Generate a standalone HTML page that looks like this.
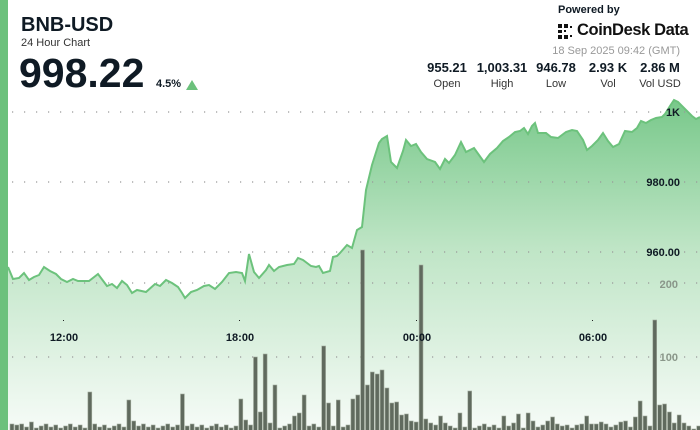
<!DOCTYPE html>
<html><head><meta charset="utf-8"><style>
body{margin:0;width:700px;height:430px;overflow:hidden;background:#fff;font-family:"Liberation Sans",sans-serif;position:relative}
.t{position:absolute;white-space:nowrap;color:#0f1a24}
.st{position:absolute;text-align:center;width:70px}
.st b{display:block;font-size:13px;color:#0f1a24}
.st span{display:block;font-size:11px;color:#333;margin-top:3px}
</style></head><body>
<svg id="s" width="700" height="430" style="position:absolute;left:0;top:0">
<defs><linearGradient id="g" x1="0" y1="100" x2="0" y2="430" gradientUnits="userSpaceOnUse">
<stop offset="0" stop-color="#78c88a"/><stop offset="0.45" stop-color="#bfe5c6"/><stop offset="1" stop-color="#f6fbf7"/></linearGradient></defs>
<path id="area" fill="url(#g)"/>
<g id="grid" stroke="#999" stroke-width="1.2" stroke-dasharray="1.2 10.8"></g>
<path id="line" fill="none" stroke="#6cc27c" stroke-width="2"/>
<g id="bars" fill="#606a5e" stroke="#a3ad9f" stroke-width="0.6"></g>
<rect x="0" y="0" width="8" height="430" fill="#6cc17c"/>
<g font-family="Liberation Sans" font-size="11" font-weight="bold" fill="#0f1a24" text-anchor="end">
<text x="680" y="116">1K</text><text x="680" y="186">980.00</text><text x="680" y="256">960.00</text>
<text x="678" y="288" fill="#8a978a">200</text><text x="678" y="361" fill="#8a978a">100</text>
</g>
<g font-family="Liberation Sans" font-size="11" font-weight="bold" fill="#0f1a24" text-anchor="middle">
<text x="64" y="341">12:00</text><text x="240" y="341">18:00</text><text x="417" y="341">00:00</text><text x="593" y="341">06:00</text>
</g>
<g fill="#222"><rect x="63" y="320" width="1" height="1"/><rect x="239" y="320" width="1" height="1"/><rect x="416" y="320" width="1" height="1"/><rect x="592" y="320" width="1" height="1"/></g>
<g fill="#111"><rect x="558" y="24" width="4" height="4"/><rect x="564" y="24" width="4" height="4"/><rect x="558" y="30" width="4" height="3"/><rect x="558" y="35" width="4" height="4"/><rect x="564" y="35" width="4" height="4"/><rect x="570" y="26" width="2" height="2"/><rect x="570" y="35" width="2" height="2"/><rect x="564" y="30" width="2" height="2"/></g>
</svg>
<div class="t" style="left:21px;top:14px;font-size:20px;font-weight:bold">BNB-USD</div>
<div class="t" style="left:21px;top:37px;font-size:11px;color:#333">24 Hour Chart</div>
<div class="t" style="left:19px;top:50px;font-size:41px;font-weight:bold">998.22</div>
<div class="t" style="left:156px;top:78px;font-size:11px;font-weight:bold">4.5%</div>
<div class="t" style="left:186px;top:80px;width:0;height:0;border-left:6px solid transparent;border-right:6px solid transparent;border-bottom:10px solid #6cc17c"></div>
<div class="t" style="left:558px;top:4px;font-size:11px;font-weight:bold">Powered by</div>
<div class="t" style="left:577px;top:21px;font-size:16.5px;font-weight:bold;letter-spacing:-0.4px;color:#111">CoinDesk Data</div>
<div class="t" style="right:20px;top:45px;font-size:11px;color:#999">18 Sep 2025 09:42 (GMT)</div>
<div class="st" style="left:412px;top:60px"><b>955.21</b><span>Open</span></div>
<div class="st" style="left:467px;top:60px"><b>1,003.31</b><span>High</span></div>
<div class="st" style="left:521px;top:60px"><b>946.78</b><span>Low</span></div>
<div class="st" style="left:573px;top:60px"><b>2.93 K</b><span>Vol</span></div>
<div class="st" style="left:625px;top:60px"><b>2.86 M</b><span>Vol USD</span></div>
<script>
var NS="http://www.w3.org/2000/svg";
var pts=[[8,267],[13,279],[19,278],[24,273],[29,280],[34,277],[39,275],[44,267],[50,271],[56,274],[61,279],[67,282],[73,279],[78,281],[84,281],[89,281],[98,274],[107,286],[112,284],[117,288],[122,281],[127,285],[132,293],[137,290],[146,292],[155,284],[160,286],[166,280],[172,283],[178,287],[182,293],[185,298],[191,292],[197,290],[204,286],[209,285],[215,289],[222,282],[229,273],[236,272],[242,273],[245,281],[249,254],[254,272],[259,278],[266,270],[269,265],[274,271],[279,267],[287,265],[294,264],[298,258],[303,260],[311,266],[316,267],[319,266],[323,273],[330,271],[333,257],[337,256],[340,253],[347,245],[352,248],[357,230],[362,227],[366,190],[372,165],[379,143],[382,139],[387,136],[391,162],[397,168],[403,151],[406,140],[411,146],[416,144],[421,152],[427,159],[435,162],[440,169],[445,159],[449,163],[455,155],[461,142],[466,152],[474,148],[484,162],[490,154],[497,148],[503,141],[509,137],[515,132],[520,131],[524,128],[528,134],[532,126],[535,123],[538,133],[546,133],[551,137],[558,138],[566,132],[572,130],[577,131],[583,140],[587,150],[592,146],[598,140],[603,133],[608,141],[613,147],[619,144],[625,131],[632,132],[637,128],[641,121],[646,123],[651,120],[656,118],[662,117],[665,114],[670,106],[674,100],[678,102],[682,106],[689,113],[692,116],[696,119],[700,117]];
var d="M"+pts.map(function(p){return p[0]+","+p[1]}).join("L");
document.getElementById("line").setAttribute("d",d);
document.getElementById("area").setAttribute("d",d+"L700,430L8,430Z");
var gr=document.getElementById("grid");
[112,182,252,283,357].forEach(function(y){var l=document.createElementNS(NS,"line");l.setAttribute("x1",12);l.setAttribute("x2",700);l.setAttribute("y1",y);l.setAttribute("y2",y);gr.appendChild(l);});
var hs={12:7,17:6,32:9,90:39,128:31,133:10,182:37,240:32,245:11,255:74,260:19,265:77,270:8,274:46,294:15,299:18,304:36,323:85,328:28,338:31,352:32,357:36,362:181,367:46,372:59,377:57,381:61,386:43,391:28,396:29,401:16,406:17,411:10,415:9,420:166,425:12,430:8,435:6,440:15,445:8,449:5,454:3,459:18,469:40,503:15,508:5,513:8,518:17,527:18,532:10,547:10,552:14,561:5,576:6,586:15,591:7,595:7,600:9,620:9,625:10,630:4,634:14,639:30,644:15,654:111,659:26,663:27,668:19,673:8,678:16,683:8,688:5,693:2};
var b=document.getElementById("bars");var m={};
for(var k in hs){m[Math.round((k-12)/4.87)]=hs[k];}
for(var i=0;i<142;i++){var h=m[i]!==undefined?m[i]:(3+((i*7)%5));var x=10+i*4.87;var r=document.createElementNS(NS,"rect");r.setAttribute("x",x.toFixed(1));r.setAttribute("y",431-h);r.setAttribute("width",3.9);r.setAttribute("height",h);b.appendChild(r);}
</script>
</body></html>
